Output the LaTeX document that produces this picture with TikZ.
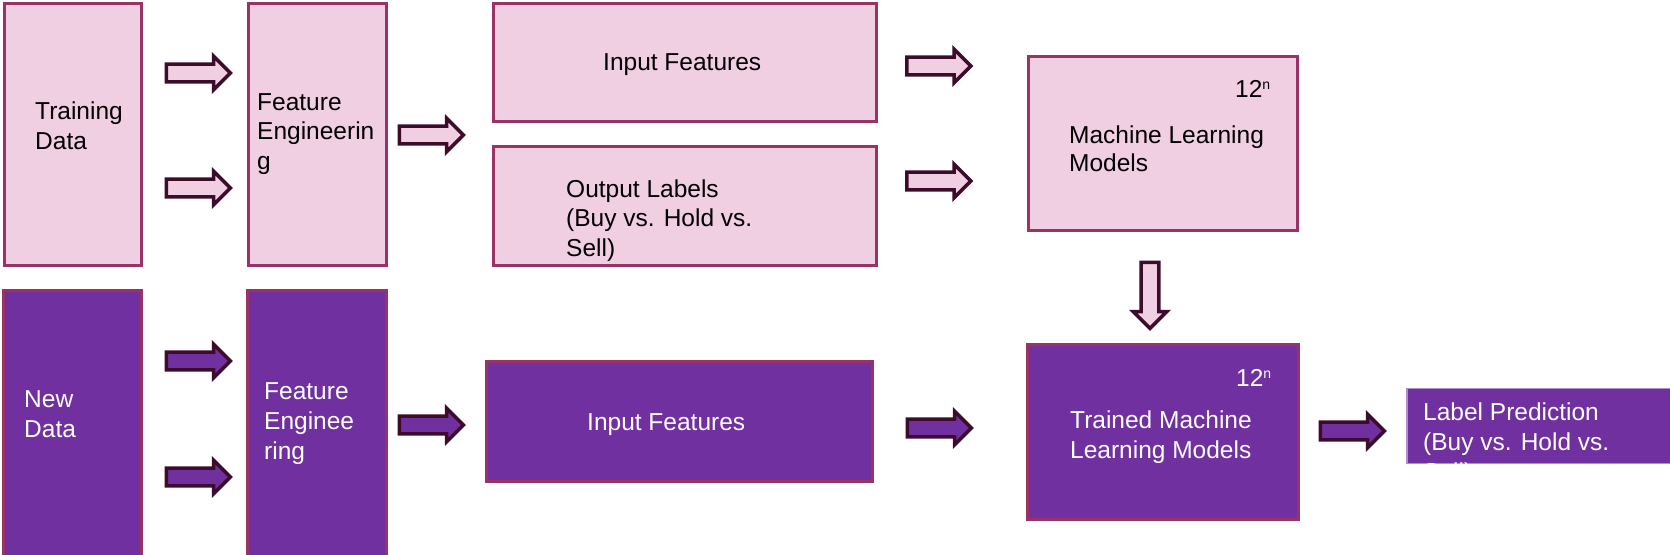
\documentclass[tikz,border=0pt]{standalone}
\usepackage{fontspec}
\setmainfont{Liberation Sans}
\usetikzlibrary{shapes.arrows}
\definecolor{pinkfill}{HTML}{F0CFE2}
\definecolor{boxborder}{HTML}{993366}
\definecolor{purp}{HTML}{7030A0}
\definecolor{arrline}{HTML}{3D0C2B}
\tikzset{
  pinkbox/.style={draw=boxborder, fill=pinkfill, line width=3pt, inner sep=0pt},
  purpbox/.style={draw=boxborder, fill=purp, line width=3pt, inner sep=0pt},
  predbox/.style={draw=purp!55!white, fill=purp, line width=1.2pt, inner sep=0pt},
  txt/.style={font=\fontsize{24.5}{29.5}\selectfont, align=left, anchor=base west, inner sep=0pt, text=black},
  wtxt/.style={txt, font=\fontsize{24.5}{30}\selectfont, text=white},
  blockarr/.style={single arrow, draw=arrline, line width=3.5pt, inner xsep=0pt, inner ysep=6.25pt,
    minimum height=64pt, minimum width=33.5pt, single arrow head indent=0pt},
  parr/.style={blockarr, fill=pinkfill},
  varr/.style={blockarr, fill=purp},
}
\newcommand{\supn}{\raisebox{8pt}{\fontsize{14}{14}\selectfont n}}
\begin{document}
\begin{tikzpicture}[x=1pt, y=-1pt]
\useasboundingbox (0,0) rectangle (1670,554);
% top row boxes
\node[pinkbox, minimum width=137pt, minimum height=262pt] (train) at (73,134.5) {};
\node[pinkbox, minimum width=138pt, minimum height=262pt] (fe1) at (317.5,134.5) {};
\node[pinkbox, minimum width=383pt, minimum height=118pt] (in1) at (685,62.5) {};
\node[pinkbox, minimum width=383pt, minimum height=119pt] (out1) at (685,206) {};
\node[pinkbox, minimum width=269pt, minimum height=174pt] (ml) at (1163,143.5) {};
% bottom row boxes
\node[purpbox, minimum width=138pt, minimum height=270pt] (new) at (72.5,425) {};
\node[purpbox, minimum width=139pt, minimum height=270pt] (fe2) at (317,425) {};
\node[purpbox, minimum width=386pt, minimum height=120pt] (in2) at (679.5,421.5) {};
\node[purpbox, minimum width=271pt, minimum height=175pt] (tml) at (1163,432) {};
\node[predbox, minimum width=273pt, minimum height=75pt] (pred) at (1543.5,426) {};
% texts (anchor = baseline of the last line)
\node[txt] (ttrain) at (35,149) {Training\\Data};
\node[txt] (tfe1) at (257,169) {Feature\\Engineerin\\g};
\node[txt] (tin1) at (603,70) {Input Features};
\node[txt] (tout1) at (566,256) {Output Labels\\(Buy vs. Hold vs.\\Sell)};
\node[txt] (tmlsup) at (1235,97) {12\supn};
\node[txt, font=\fontsize{24.5}{28}\selectfont] (tml1) at (1069,171) {Machine Learning\\Models};
\node[wtxt] (tnew) at (24,437) {New\\Data};
\node[wtxt] (tfe2) at (264,459) {Feature\\Enginee\\ring};
\node[wtxt] (tin2) at (587,430) {Input Features};
\node[wtxt] (ttmlsup) at (1236,386) {12\supn};
\node[wtxt] (ttml) at (1070,458) {Trained Machine\\Learning Models};
\node[wtxt] (tpred) at (1423,480) {Label Prediction\\(Buy vs. Hold vs.\\Sell)};
% block arrows
\node[parr] (a1) at (194,73) {};
\node[parr] (a2) at (194,188) {};
\node[parr] (a3) at (427,135) {};
\node[parr] (a4) at (934.5,66) {};
\node[parr] (a5) at (934.5,181) {};
\node[parr, rotate=-90, minimum height=66pt] (a6) at (1150,291) {};
\node[varr] (b1) at (194,361) {};
\node[varr] (b2) at (194,477) {};
\node[varr] (b3) at (427,425) {};
\node[varr] (b4) at (935,428) {};
\node[varr] (b5) at (1348,431) {};
\end{tikzpicture}
\end{document}
